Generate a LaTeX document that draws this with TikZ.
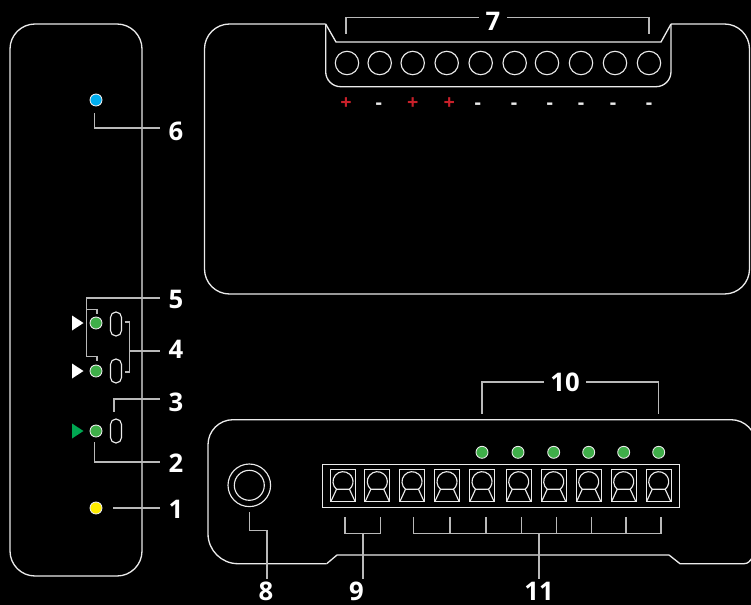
\documentclass[tikz,border=0pt]{standalone}
\usepackage{xcolor}
\usepackage{fontspec}
\setmainfont{Open Sans}
\usepackage{tikz}
\usetikzlibrary{calc}
\definecolor{mywhite}{RGB}{235,235,235}
\definecolor{mygrey}{RGB}{185,185,185}
\definecolor{myblue}{RGB}{0,174,239}
\definecolor{mygreen}{RGB}{63,174,73}
\definecolor{myyellow}{RGB}{255,237,0}
\definecolor{myarrow}{RGB}{0,166,81}
\definecolor{myred}{RGB}{200,32,42}
\tikzset{
  edge/.style={draw=mywhite, line width=0.75pt},
  thinline/.style={draw=mywhite, line width=0.65pt},
  leader/.style={draw=mygrey, line width=0.65pt},
  led/.style={circle, draw=mywhite, line width=0.5pt, minimum size=0.24cm, inner sep=0pt},
  slot/.style={rectangle, thinline, minimum width=0.22cm, minimum height=0.48cm,
    rounded corners=0.108cm, inner sep=0pt},
  screw/.style={circle, thinline, minimum size=0.468cm, inner sep=0pt},
  termbox/.style={rectangle, thinline, minimum width=0.5cm, minimum height=0.632cm, inner sep=0pt},
  numlabel/.style={text=white, font=\fontsize{14.6}{17}\selectfont\bfseries,
    minimum width=0.64cm, minimum height=0.5cm, text height=10.4pt, text depth=0pt, inner sep=0pt},
  signlabel/.style={anchor=base, font=\fontsize{11.3}{13}\selectfont\bfseries, inner sep=0pt}
}

\begin{document}
\begin{tikzpicture}[x=0.02cm, y=-0.02cm]
  \useasboundingbox (0,0) rectangle (751,605);
  \clip (0,0) rectangle (751,605);
  \fill[black] (0,0) rectangle (751,605);

  % ── Side view ──────────────────────────────────────────────────────────────
  \draw[edge, rounded corners=0.5cm] (10,24) rectangle (142,576);

  \node[led, fill=myblue] (ledsix) at (96,100) {};
  \node[led, fill=mygreen] (ledfivea) at (96,323) {};
  \node[led, fill=mygreen] (ledfiveb) at (96,371) {};
  \node[led, fill=mygreen] (ledtwo) at (96,431) {};
  \node[led, fill=myyellow] (ledone) at (96,508) {};

  \node[slot] (slota) at (116,324) {};
  \node[slot] (slotb) at (116,371) {};
  \node[slot] (slotc) at (116,431) {};

  \foreach \y/\c in {323/white, 371/white, 431/myarrow} {
    \fill[\c] (72,\y-7.5) -- (83.5,\y) -- (72,\y+7.5) -- cycle;
  }

  \node[numlabel] (numsix) at (176,131) {6};
  \node[numlabel] (numfive) at (176,299) {5};
  \node[numlabel] (numfour) at (176,349.5) {4};
  \node[numlabel] (numthree) at (176,402.5) {3};
  \node[numlabel] (numtwo) at (176,463) {2};
  \node[numlabel] (numone) at (176,509.5) {1};

  \draw[leader] ($(numsix.west)+(0,-3)$) -| ($(ledsix.south)+(-1.5,7)$);
  \draw[leader] ($(numfive.west)+(0,-1)$) -| ($(ledfiveb.north)+(-9.5,-8)$) -| ($(ledfiveb.north)+(1,-4)$);
  \draw[leader] ($(ledfivea.north)+(-9.5,-7)$) -| ($(ledfivea.north)+(1,-3)$);
  \draw[leader] ($(slota.east)+(2.5,-2)$) -| ($(slotb.east)+(7.5,1)$) -- ($(slotb.east)+(2.5,1)$);
  \draw[leader] ($(numfour.west)+(0,1.5)$) -- ($(numfour.west)+(-31,1.5)$);
  \draw[leader] ($(numthree.west)+(0,-3.5)$) -| ($(slotc.north)+(-2,-6)$);
  \draw[leader] ($(numtwo.west)+(0,-1)$) -| ($(ledtwo.south)+(-1.5,5)$);
  \draw[leader] ($(numone.west)+(0,-1.5)$) -- ($(ledone.east)+(11,0)$);

  % ── Top view ───────────────────────────────────────────────────────────────
  \draw[edge] (325.7,24) -- (229.5,24) arc[start angle=270, end angle=180, radius=25]
    -- (204.5,269) arc[start angle=180, end angle=90, radius=25]
    -- (724.5,294) arc[start angle=90, end angle=0, radius=25]
    -- (749.5,49) arc[start angle=0, end angle=-90, radius=25] -- (671,24);
  \draw[edge] (325.7,24) -- (336,42) -- (661,42) -- (671,24);
  \draw[edge, rounded corners=0.3cm] (325.7,24) -- (325.7,86.7) -- (671,86.7) -- (671,24);

  \foreach \x [count=\i] in {347,379.7,412.7,446.7,480.7,514.7,547,581,615,649} {
    \node[screw] (screw\i) at (\x,63) {};
  }
  \foreach \x in {346,412.7,449.3} {
    \node[signlabel, text=myred] at (\x,109) {+};
  }
  \foreach \x in {378.7,477.7,514,549.7,581,613,649} {
    \node[signlabel, text=mywhite] at (\x,109) {-};
  }

  \node[numlabel, minimum width=0.56cm] (numseven) at (493,21) {7};
  \draw[leader] ($(numseven.west)+(0,-3.3)$) -| ($(screw1.north)+(-1,-17)$);
  \draw[leader] ($(numseven.east)+(0,-3.3)$) -| ($(screw10.north)+(0,-17)$);

  % ── Front view ─────────────────────────────────────────────────────────────
  \draw[edge] (326.7,563.7) -- (238,563.7) arc[start angle=90, end angle=180, radius=30]
    -- (208,444.7) arc[start angle=180, end angle=270, radius=25]
    -- (731,419.7) arc[start angle=-90, end angle=0, radius=25];
  \draw[edge] (326.7,563.7) -- (337,555) -- (669,555) -- (680,563.7) -- (744,563.7)
    .. controls (748,563.7) and (750,561) .. (752,558);

  \node[circle, thinline, minimum size=0.852cm, inner sep=0pt] (jackout) at (249.3,485.3) {};
  \node[circle, thinline, minimum size=0.6cm, inner sep=0pt] (jackin) at (249.3,485.3) {};

  \node[rectangle, thinline, minimum width=7.132cm, minimum height=0.868cm, inner sep=0pt] (strip) at (501,486) {};
  \foreach \x [count=\i] in {343,377.3,412,447,482,518.7,553.7,588.7,623.7,658.7} {
    \node[termbox] (term\i) at (\x,485.5) {};
    \begin{scope}[shift={(term\i.center)}]
      \draw[thinline] (-6.5,3.8) arc[start angle=130.5, end angle=409.5, radius=10];
      \draw[thinline] (-12,15.8) -- (-6.5,3.8) -- (6.5,3.8) -- (12,15.8);
    \end{scope}
  }
  \foreach \x [count=\i] in {482,518,553.7,588.7,623.7,658.7} {
    \node[led, fill=mygreen] (ledport\i) at (\x,452.3) {};
  }

  \node[numlabel] (numeight) at (266,591.5) {8};
  \node[numlabel] (numnine) at (356.5,591.5) {9};
  \node[numlabel, minimum width=0.82cm] (numeleven) at (539,591.5) {11};
  \node[numlabel, minimum width=0.82cm] (numten) at (565,382) {10};

  \draw[leader] (numten.west) -| ($(ledport1.north)+(0,-32)$);
  \draw[leader] (numten.east) -| ($(ledport6.north)+(0,-32)$);

  \draw[leader] ($(numeight.north)+(1,0)$) |- ($(jackout.south)+(0,23)$) -- ($(jackout.south)+(0,5)$);

  \draw[leader] ($(numnine.north)+(6.5,0)$) -- ($(numnine.north)+(6.5,-45.5)$);
  \draw[leader] ($(term1.south)+(2,15)$) |- ($(term2.south)+(3,32)$) -- ($(term2.south)+(3,15)$);

  \draw[leader] (numeleven.north) -- ($(numeleven.north)+(0,-45.5)$);
  \draw[leader] ($(term3.south)+(1.7,32)$) -- ($(term10.south)+(2.3,32)$);
  \foreach \i/\d in {3/1.7, 4/3, 5/4, 6/2.6, 7/2.6, 8/2.6, 9/2.3, 10/2.3} {
    \draw[leader] ($(term\i.south)+(\d,15)$) -- ($(term\i.south)+(\d,32)$);
  }
\end{tikzpicture}
\end{document}
